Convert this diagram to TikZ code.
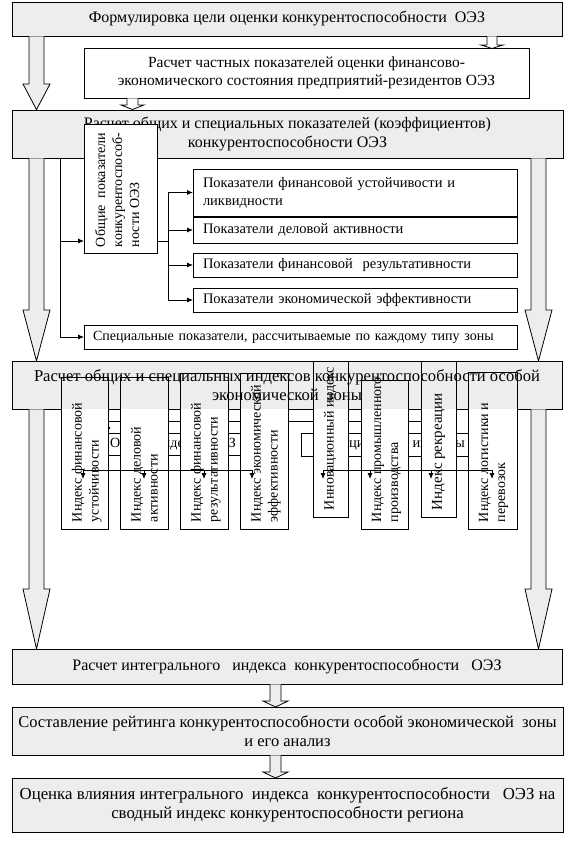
\documentclass[tikz,border=0pt]{standalone}
\usepackage{fontspec}
\setmainfont{Liberation Serif}
\usetikzlibrary{arrows.meta}
\definecolor{boxgray}{HTML}{EDEDED}
\newcommand\szA{\fontsize{16}{18.5}\selectfont}
\newcommand\szAA{\fontsize{16.6}{18.5}\selectfont}
\newcommand\szB{\fontsize{14.5}{18}\selectfont}
\newcommand\szC{\fontsize{14}{17}\selectfont}
\newcommand\szD{\fontsize{15}{17}\selectfont}
\begin{document}
\begin{tikzpicture}[x=1pt,y=-1pt,line width=0.8pt,
 every node/.style={outer sep=0pt},
 graybox/.style={draw, fill=boxgray, anchor=north west, align=center, inner sep=0pt, font=\szA},
 whitebox/.style={draw, fill=white, anchor=north west, align=center, inner sep=0pt, font=\szA},
 listbox/.style={draw, fill=white, anchor=north west, align=left, inner xsep=10pt, inner ysep=0pt, font=\szB},
 hidbox/.style={draw, fill=white, anchor=north west, align=center, inner sep=0pt, font=\szB},
 idxbox/.style={draw, anchor=north west, inner sep=0pt},
 rottext/.style={rotate=90, anchor=north west, align=left, inner sep=0pt, font=\szC},
 blockarrow/.style={draw, fill=boxgray, line join=miter},
 smallarrow/.style={draw, fill=white, line join=miter},
 arr/.style={-{Latex[length=6pt,width=5pt]}},
]
\useasboundingbox (0,0) rectangle (577,842);

% ---- top boxes
\node[graybox, minimum width=550pt, minimum height=34pt] (b1) at (12,2)
  {Формулировка цели оценки конкурентоспособности\ \ ОЭЗ};
\node[whitebox, minimum width=445pt, minimum height=50pt, font=\fontsize{15.5}{18.5}\selectfont] (b2) at (84,48)
  {Расчет частных показателей оценки финансово-\\экономического состояния предприятий-резидентов ОЭЗ};
\node[graybox, minimum width=551pt, minimum height=48pt] (b3) at (12,110)
  {Расчет общих и специальных показателей (коэффициентов)\\конкурентоспособности ОЭЗ};

% small block arrows
\draw[smallarrow] (487,36.5) -- (487,45) -- (481,45) -- (492,48.5) -- (503,45) -- (497,45) -- (497,36.5);
\draw[smallarrow] (127,98.5) -- (127,105) -- (121,105) -- (132.5,109.5) -- (144,105) -- (138,105) -- (138,98.5);

% big arrow b1 -> b3
\draw[blockarrow] (29,36.5) -- (29,84) -- (23,84) -- (36.5,109.6) -- (50,84) -- (44,84) -- (44,36.5);

% ---- middle section (indicators)
\node[whitebox, minimum width=73pt, minimum height=129pt] (og) at (84,124) {};
\node[rottext] (ogt) at (95,247) {Общие\ \ показатели\\конкурентоспособ-\\ности ОЭЗ};

\node[listbox, text width=304pt, minimum height=47pt] (p1) at (193,169)
  {Показатели финансовой устойчивости и\\ликвидности};
\node[listbox, text width=304pt, minimum height=26pt] (p2) at (193,217)
  {Показатели деловой активности};
\node[listbox, text width=304pt, minimum height=24pt] (p3) at (193,253)
  {Показатели финансовой\ \ результативности};
\node[listbox, text width=304pt, minimum height=24pt] (p4) at (193,288)
  {Показатели экономической эффективности};
\node[listbox, text width=415pt, inner xsep=9pt, minimum height=24pt, font=\fontsize{14}{18}\selectfont] (sp) at (84,325)
  {\mbox{Специальные показатели, рассчитываемые по каждому типу зоны}};

\coordinate (v0) at (60,158.4);
\coordinate (y241) at (0,241);
\coordinate (bus) at (168,241);
\draw[arr] (v0) |- (sp.west);
\draw[arr] (v0 |- y241) -- (og.west |- y241);
\draw (og.east |- y241) -- (bus);
\draw[arr] (bus) |- (p1.west);
\draw[arr] (bus) |- (p2.west);
\draw[arr] (bus) |- (p3.west);
\draw[arr] (bus) |- (p4.west);

% big arrows b3 -> b4
\draw[blockarrow] (29,158.4) -- (29,310) -- (23,310) -- (36.5,361) -- (50,310) -- (44,310) -- (44,158.4);
\draw[blockarrow] (531,158.4) -- (531,310) -- (525,310) -- (538.5,361) -- (552,310) -- (546,310) -- (546,158.4);

% ---- index section
\node[graybox, minimum width=550pt, minimum height=48pt, font=\szAA] (b4) at (12,361)
  {Расчет общих и специальных индексов конкурентоспособности особой\\экономической\ \ зоны};

\coordinate (h1) at (108,421);
\coordinate (h2) at (440,421);
\draw (h1) -- (h2);
\node[hidbox, minimum width=150pt, minimum height=22pt, font=\fontsize{14}{18}\selectfont] (gi) at (98,433) {Общие индексы ОЭЗ};
\node[hidbox, minimum width=188pt, minimum height=23pt] (si) at (301,433) {Специальные индексы};
\draw[arr] (h1) -- (h1 |- gi.north);

% white lower parts of index boxes
\fill[white] (61,409.4) rectangle (108,529);
\fill[white] (120,409.4) rectangle (168,529);
\fill[white] (180,409.4) rectangle (228,529);
\fill[white] (240,409.4) rectangle (288,529);
\fill[white] (313,409.4) rectangle (348,517);
\fill[white] (361,409.4) rectangle (408,529);
\fill[white] (421,409.4) rectangle (456,517);
\fill[white] (468,409.4) rectangle (517,529);

\node[idxbox, minimum width=47pt, minimum height=152pt] (iA) at (61,377) {};
\node[idxbox, minimum width=48pt, minimum height=152pt] (iB) at (120,377) {};
\node[idxbox, minimum width=48pt, minimum height=156pt] (iC) at (180,373) {};
\node[idxbox, minimum width=48pt, minimum height=156pt] (iD) at (240,373) {};
\node[idxbox, minimum width=35pt, minimum height=156pt] (iE) at (313,361) {};
\node[idxbox, minimum width=47pt, minimum height=149pt] (iF) at (361,380) {};
\node[idxbox, minimum width=35pt, minimum height=156pt] (iG) at (421,361) {};
\node[idxbox, minimum width=49pt, minimum height=157pt] (iH) at (468,372) {};

\node[rottext] (tA) at (72,522) {Индекс финансовой\\устойчивости};
\node[rottext] (tB) at (131,522) {Индекс деловой\\активности};
\node[rottext] (tC) at (191,522) {Индекс финансовой\\результативности};
\node[rottext] (tD) at (251,522) {Индекс экономической\\эффективности};
\node[rottext] (tE) at (324,510) {Инновационный индекс};
\node[rottext] (tF) at (372,522) {Индекс промышленного\\производства};
\node[rottext, font=\szD] (tG) at (432,510) {Индекс рекреации};
\node[rottext] (tH) at (479,522) {Индекс логистики и\\перевозок};

% lower distribution lines
\coordinate (gl) at (83,470);
\coordinate (gr) at (252,470);
\coordinate (sl) at (323,470);
\coordinate (sr) at (492,470);
\draw (gl) -- (gr);
\draw (sl) -- (sr);
\foreach \x/\n in {83/a1,144/a2,204/a3,252/a4,323/a5,370/a6,431/a7,492/a8}{
  \coordinate (s\n) at (\x,470);
  \coordinate (e\n) at (\x,479);
  \draw[arr] (s\n) -- (e\n);
}

% big arrows b4 -> b5
\draw[blockarrow] (29,409.4) -- (29,589) -- (23,589) -- (36.5,649) -- (50,589) -- (44,589) -- (44,409.4);
\draw[blockarrow] (531,409.4) -- (531,589) -- (525,589) -- (538.5,649) -- (552,589) -- (546,589) -- (546,409.4);

% ---- bottom boxes
\node[graybox, minimum width=550pt, minimum height=35pt] (b5) at (12,649)
  {Расчет интегрального\ \ \ индекса\ \ конкурентоспособности\ \ \ ОЭЗ};
\node[graybox, minimum width=551pt, minimum height=48pt, font=\fontsize{16.5}{18.5}\selectfont] (b6) at (12,707)
  {Составление рейтинга конкурентоспособности особой экономической\ \ зоны\\и его анализ};
\node[graybox, minimum width=551pt, minimum height=54pt, font=\fontsize{16.8}{18.5}\selectfont] (b7) at (12,778)
  {Оценка влияния интегрального\ \ индекса\ \ конкурентоспособности\ \ \ ОЭЗ на\\сводный индекс конкурентоспособности региона};

\draw[blockarrow] (270,684.4) -- (270,701) -- (263,701) -- (275.5,707) -- (288,701) -- (281,701) -- (281,684.4);
\draw[blockarrow] (270,755.4) -- (270,772) -- (263,772) -- (275.5,778) -- (288,772) -- (281,772) -- (281,755.4);

\end{tikzpicture}
\end{document}
